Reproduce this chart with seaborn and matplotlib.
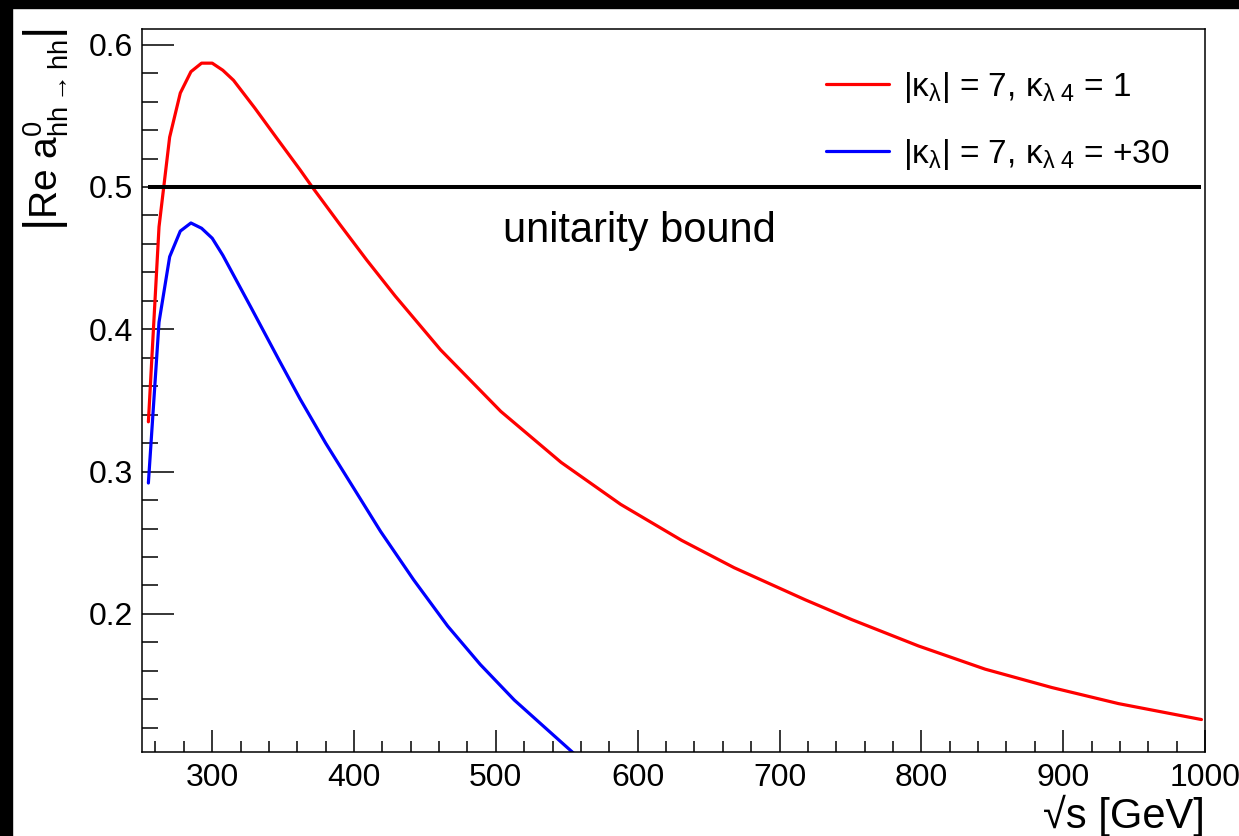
import matplotlib
matplotlib.use("Agg")
import numpy as np
import pandas as pd
import seaborn as sns
import matplotlib.pyplot as plt
from matplotlib.ticker import MultipleLocator, FixedLocator
from matplotlib.patches import Rectangle

# ---- data ----
red_x = [255, 262.5, 270, 277.5, 285, 292.5, 300, 307.5, 315, 330, 345, 362,
         370.5, 390, 409, 429, 461, 503.5, 546, 588, 631, 668, 718, 751, 798,
         845, 892, 939, 997.5]
red_y = [0.335, 0.472, 0.535, 0.566, 0.581, 0.587, 0.587, 0.582, 0.575, 0.5555,
         0.535, 0.512, 0.500, 0.4737, 0.4486, 0.4234, 0.3856, 0.3423, 0.3065,
         0.2770, 0.2517, 0.2325, 0.2100, 0.1960, 0.1775, 0.1612, 0.1483,
         0.1370, 0.1258]

blue_x = [255, 262.5, 270, 277.5, 285, 292.5, 300, 307.5, 327, 347, 362, 380,
          400, 418.7, 442, 466, 489, 513, 536.5, 555]
blue_y = [0.292, 0.405, 0.451, 0.469, 0.4747, 0.471, 0.464, 0.452, 0.416,
          0.3786, 0.351, 0.320, 0.288, 0.258, 0.224, 0.1915, 0.1645, 0.1395,
          0.1185, 0.102]

series_labels = [r"|κ$_{λ}$| = 7, κ$_{λ\ 4}$ = 1",
                 r"|κ$_{λ}$| = 7, κ$_{λ\ 4}$ = +30"]
series_colors = ["#ff0000", "#0000ff"]
x_ticks = [300, 400, 500, 600, 700, 800, 900, 1000]
y_ticks = [0.2, 0.3, 0.4, 0.5, 0.6]
unitarity_value = 0.5
unitarity_text = "unitarity bound"

# ---- style ----
sns.set_theme(style="white")
plt.rcParams["font.family"] = ["Liberation Sans", "DejaVu Sans"]
plt.rcParams["mathtext.fontset"] = "custom"
plt.rcParams["mathtext.rm"] = "Liberation Sans"
plt.rcParams["mathtext.it"] = "Liberation Sans"
plt.rcParams["mathtext.sf"] = "Liberation Sans"
plt.rcParams["mathtext.bf"] = "Liberation Sans:bold"
plt.rcParams["mathtext.default"] = "regular"
for k in ["text.color", "axes.labelcolor", "xtick.color", "ytick.color",
          "axes.edgecolor"]:
    plt.rcParams[k] = "black"

W, H = 1239, 836
fig = plt.figure(figsize=(W / 100, H / 100), dpi=100)
fig.patch.set_facecolor("white")
ax = fig.add_axes([142 / W, 1 - 752 / H, (1205 - 142) / W, (752 - 29) / H])

df = pd.concat([
    pd.DataFrame({"x": red_x, "y": red_y, "series": series_labels[0]}),
    pd.DataFrame({"x": blue_x, "y": blue_y, "series": series_labels[1]}),
], ignore_index=True)

sns.lineplot(data=df, x="x", y="y", hue="series", palette=series_colors,
             estimator=None, sort=False, linewidth=2.3, ax=ax, legend=True)

ax.hlines(unitarity_value, red_x[0], red_x[-1], color="black", linewidth=2.9,
          zorder=3)
ax.text(505, 0.4615, unitarity_text, fontsize=30, ha="left", va="baseline",
        color="black")

ax.set_xlim(250.5, 1000)
ax.set_ylim(0.103, 0.611)

ax.xaxis.set_major_locator(FixedLocator(x_ticks))
ax.xaxis.set_minor_locator(MultipleLocator(20))
ax.yaxis.set_major_locator(FixedLocator(y_ticks))
ax.yaxis.set_minor_locator(MultipleLocator(0.02))
ax.set_xticklabels([str(v) for v in x_ticks])
ax.set_yticklabels([f"{v:.1f}" for v in y_ticks])

ax.tick_params(axis="both", which="both", direction="in", top=False,
               right=False, bottom=True, left=True, colors="black",
               labelcolor="black", labelsize=23, width=1.1)
ax.tick_params(axis="y", which="major", length=23, pad=6.5)
ax.tick_params(axis="y", which="minor", length=11.5)
ax.tick_params(axis="x", which="major", length=16, pad=8)
ax.tick_params(axis="x", which="minor", length=8)
for s in ax.spines.values():
    s.set_visible(True)
    s.set_color("black")
    s.set_linewidth(1.1)

ax.set_xlabel("")
ax.set_ylabel("")

fig.text(1205 / W, 1 - 828 / H, "√s [GeV]", fontsize=30, ha="right",
         va="baseline", color="black")
fig.text(46 / W, 1 - 130 / H,
         r"$\left|\mathrm{Re}\ a^{0}_{hh\rightarrow hh}\right|$",
         fontsize=28, rotation=90, ha="center", va="center", color="black")

handles, labels = ax.get_legend_handles_labels()
leg = ax.legend(handles, labels, loc="upper left",
                bbox_to_anchor=(826 / W, 1 - 70 / H),
                bbox_transform=fig.transFigure, frameon=False, borderpad=0,
                borderaxespad=0, handlelength=1.9, handletextpad=0.4,
                labelspacing=0.95, fontsize=24)
for t in leg.get_texts():
    t.set_color("black")

# black strips at the top and left edge of the reference picture
fig.patches.append(Rectangle((0, 1 - 8 / H), 1, 8 / H,
                             transform=fig.transFigure, color="black",
                             zorder=10))
fig.patches.append(Rectangle((0, 0), 12 / W, 1, transform=fig.transFigure,
                             color="black", zorder=10))

fig.savefig("out.png", dpi=100)
